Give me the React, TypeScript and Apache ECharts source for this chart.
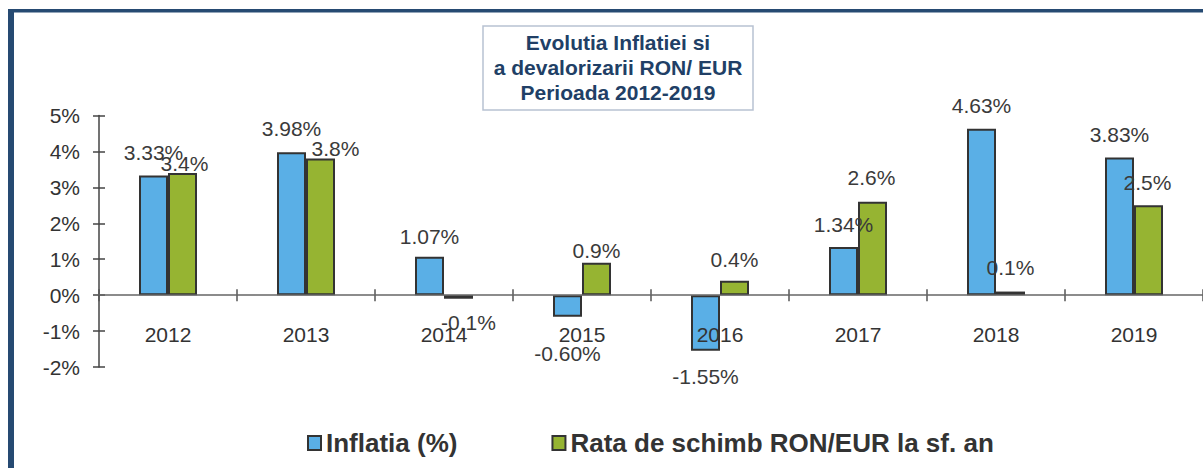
import React, { useEffect, useRef } from "react";
import * as echarts from "echarts";

const years = ["2012", "2013", "2014", "2015", "2016", "2017", "2018", "2019"];
const inflation = [3.33, 3.98, 1.07, -0.6, -1.55, 1.34, 4.63, 3.83];
const exchangeRate = [3.4, 3.8, -0.1, 0.9, 0.4, 2.6, 0.1, 2.5];
const yTicks = { min: -2, max: 5, interval: 1 };
const titleLines = ["Evolutia Inflatiei si", "a devalorizarii RON/ EUR", "Perioada 2012-2019"];
const seriesNames = ["Inflatia (%)", "Rata de schimb RON/EUR la sf. an"];

// label nudges (style only) as in the original hand-placed labels
const inflLabelNudge = [[0, 0], [0, 0], [0, 3], [0, 13], [0, 2], [0, 1], [0, 0], [0, 0]];
const rateLabelNudge = [[2, 14], [15, 13], [10, 0], [0, 11], [0, 2], [-1, -1], [0, -1], [-1, 1]];

const FONT = "'Liberation Sans', Arial, sans-serif";
const GRID = { left: 99, top: 115.5, width: 1106, height: 251.5 };

export default function App() {
  const ref = useRef<HTMLDivElement>(null);
  useEffect(() => {
    if (!ref.current) return;
    const chart = echarts.init(ref.current, null, { renderer: "svg" });
    const labelBase = {
      show: true,
      position: "outside",
      distance: 13,
      fontFamily: FONT,
      fontSize: 21,
      color: "#3a3a3a",
    };
    const mk = (vals: number[], nudges: number[][]) =>
      vals.map((v, i) => ({
        value: v,
        label: { offset: nudges[i] },
      }));
    const axisCommonY = {
      type: "value",
      min: yTicks.min,
      max: yTicks.max,
      interval: yTicks.interval,
      position: "left",
      splitLine: { show: false },
    };
    // lift the category axis from the grid bottom up to the zero line
    const zeroOffset = -((0 - yTicks.min) / (yTicks.max - yTicks.min)) * GRID.height;
    chart.setOption({
      animation: false,
      grid: GRID,
      legend: {
        left: 302,
        top: 425,
        itemWidth: 13,
        itemHeight: 14,
        itemGap: 94,
        icon: "rect",
        itemStyle: { borderColor: "#333", borderWidth: 2 },
        textStyle: { fontFamily: FONT, fontSize: 26, fontWeight: "bold", color: "#333" },
        data: seriesNames,
      },
      xAxis: [
        {
          type: "category",
          data: years,
          position: "bottom",
          offset: zeroOffset,
          z: 3,
          axisLine: { onZero: false, lineStyle: { color: "#666", width: 1.5 } },
          axisTick: { show: true, length: 6, lineStyle: { color: "#555", width: 1.5 } },
          axisLabel: { margin: 29, fontFamily: FONT, fontSize: 21, color: "#333" },
        },
        {
          type: "category",
          data: years,
          position: "bottom",
          offset: zeroOffset,
          axisLine: { show: false, onZero: false },
          axisTick: { show: true, inside: true, length: 6, lineStyle: { color: "#555", width: 1.5 } },
          axisLabel: { show: false },
        },
      ],
      yAxis: [
        {
          ...axisCommonY,
          axisLine: { show: true, lineStyle: { color: "#444", width: 1.5 } },
          axisTick: { show: true, length: 6, lineStyle: { color: "#444", width: 1.5 } },
          axisLabel: {
            margin: 19,
            fontFamily: FONT,
            fontSize: 21,
            color: "#333",
            formatter: (v: number) => `${v}%`,
          },
        },
        {
          ...axisCommonY,
          axisLine: { show: false },
          axisTick: { show: true, inside: true, length: 6, lineStyle: { color: "#444", width: 1.5 } },
          axisLabel: { show: false },
        },
      ],
      series: [
        {
          name: seriesNames[0],
          type: "bar",
          barWidth: 29,
          barGap: "0%",
          data: mk(inflation, inflLabelNudge),
          itemStyle: { color: "#5aafe6", borderColor: "#333", borderWidth: 2 },
          label: { ...labelBase, formatter: (p: any) => `${Number(p.value).toFixed(2)}%` },
        },
        {
          name: seriesNames[1],
          type: "bar",
          barWidth: 29,
          barGap: "0%",
          data: mk(exchangeRate, rateLabelNudge),
          itemStyle: { color: "#96b432", borderColor: "#333", borderWidth: 2 },
          label: { ...labelBase, formatter: (p: any) => `${Number(p.value).toFixed(1)}%` },
        },
      ],
      graphic: [
        { type: "rect", left: 8, top: 9, shape: { width: 6, height: 459 }, style: { fill: "#264a72" }, z: 100 },
        { type: "rect", left: 8, top: 9, shape: { width: 1195, height: 3.5 }, style: { fill: "#264a72" }, z: 100 },
        {
          type: "rect",
          x: 483,
          y: 26,
          shape: { width: 270, height: 84 },
          style: { fill: "#fff", stroke: "#b8c2d2", lineWidth: 1.5 },
          z: 50,
        },
        {
          type: "text",
          x: 618,
          y: 67,
          z: 51,
          style: {
            text: titleLines.join("\n"),
            fontFamily: FONT,
            fontSize: 21,
            fontWeight: "bold",
            lineHeight: 25,
            fill: "#213f66",
            align: "center",
            verticalAlign: "middle",
          },
        },
      ],
    });
    return () => chart.dispose();
  }, []);
  return (
    <div
      ref={ref}
      style={{ position: "absolute", left: 0, top: 0, width: 1203, height: 468, background: "#fff" }}
    />
  );
}
